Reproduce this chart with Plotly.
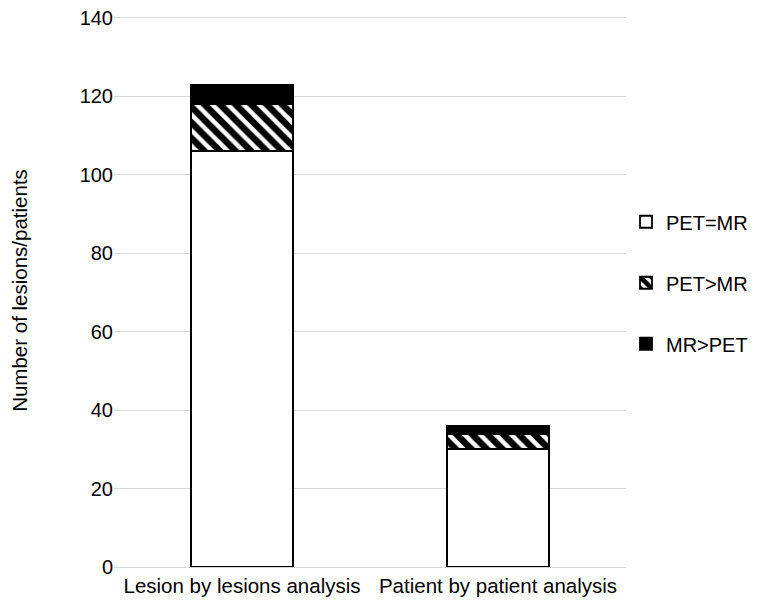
import plotly.graph_objects as go

categories = ["Lesion by lesions analysis", "Patient by patient analysis"]
series_names = ["PET=MR", "PET>MR", "MR>PET"]
pet_eq_mr = [106, 30]
pet_gt_mr = [12, 4]
mr_gt_pet = [5, 2]
y_ticks = [0, 20, 40, 60, 80, 100, 120, 140]

fam = "Liberation Sans, Arial, sans-serif"
font20 = dict(family=fam, size=20, color="#000000")
font21 = dict(family=fam, size=20.5, color="#000000")

fig = go.Figure()
fig.add_trace(go.Bar(
    x=categories, y=pet_eq_mr, name=series_names[0], legendgroup="a",
    marker=dict(color="white", line=dict(color="black", width=1.8)),
))
fig.add_trace(go.Bar(
    x=categories, y=pet_gt_mr, name=series_names[1], legendgroup="b",
    marker=dict(color="white", line=dict(color="black", width=1.8),
                pattern=dict(shape="\\", fgcolor="#000000", fgopacity=1, bgcolor="white",
                             size=11, solidity=0.6, fillmode="replace")),
))
fig.add_trace(go.Bar(
    x=categories, y=mr_gt_pet, name=series_names[2], legendgroup="c",
    marker=dict(color="black", line=dict(color="black", width=1.8)),
))

fig.update_layout(
    width=756, height=605,
    barmode="stack", bargap=0.6,
    plot_bgcolor="white", paper_bgcolor="white",
    font=font20,
    margin=dict(l=106, r=138, t=6, b=46),
    legend=dict(x=1.0, xanchor="left", y=0.514, yanchor="middle",
                traceorder="grouped", tracegroupgap=32, font=font20,
                itemwidth=30),
    yaxis=dict(range=[0, 141], tickvals=y_ticks, showgrid=True, gridcolor="#d9d9d9",
               gridwidth=1, zeroline=False, showline=False, ticks="", automargin=False,
               tickfont=font20, ticklabeloverflow="allow",
               title=dict(text="Number of lesions/patients", font=font21, standoff=49)),
    xaxis=dict(showline=True, linecolor="#d9d9d9", linewidth=1, ticks="", automargin=False,
               tickangle=0, tickfont=font21),
)

fig.write_html("out.html")
